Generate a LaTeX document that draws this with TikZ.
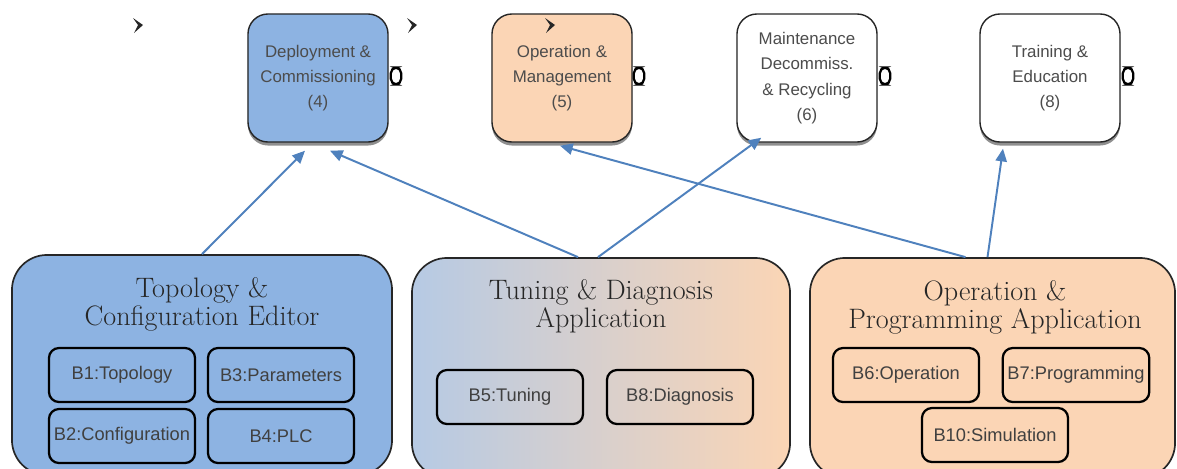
\documentclass[tikz,border=0pt]{standalone}
\usepackage{fontspec}
\setsansfont{Liberation Sans}
\usetikzlibrary{arrows.meta,shadows}

\definecolor{phaseblue}{RGB}{141,179,226}
\definecolor{peach}{RGB}{251,213,181}
\definecolor{tuneblue}{RGB}{182,202,228}
\definecolor{linkblue}{RGB}{79,129,189}

\tikzset{
  phase/.style={draw=black!85, line width=1pt, rounded corners=0.5cm,
    minimum width=3.5cm, minimum height=3.2cm, align=center,
    font=\sffamily\fontsize{12}{18}\selectfont, text=black!70,
    drop shadow={shadow xshift=0pt, shadow yshift=-2.5pt, fill=black!55, opacity=0.8}},
  toolbox/.style={draw=black!85, line width=1.2pt, rounded corners=0.875cm,
    minimum width=9.45cm, minimum height=5.5cm},
  toolname/.style={align=center, text=black!85,
    font=\fontsize{20}{20}\selectfont\addfontfeatures{LetterSpace=8}},
  block/.style={draw=black, line width=1.6pt, rounded corners=0.25cm,
    minimum width=3.65cm, minimum height=1.35cm,
    font=\sffamily\fontsize{13}{15}\selectfont, text=black!75},
  port/.style={draw=black, line width=1.6pt, rounded corners=4pt,
    minimum width=0.26cm, minimum height=0.42cm, inner sep=0pt},
  link/.style={-{Triangle[length=9pt,width=8pt]}, draw=linkblue, line width=1.4pt}
}

\begin{document}
\begin{tikzpicture}[x=0.025cm,y=-0.025cm]
  \useasboundingbox (0,0) rectangle (1177,468);
  \clip (0,0) rectangle (1177,468);

  % fases del ciclo de vida
  \node[phase, fill=phaseblue] (dep) at (318,78) {Deployment \&\\Commissioning\\(4)};
  \node[phase, fill=peach] (oper) at (562,78) {Operation \&\\Management\\(5)};
  \node[phase, fill=white] (maint) at (807,78) {Maintenance\\Decommiss.\\\& Recycling\\(6)};
  \node[phase, fill=white] (train) at (1050,78) {Training \&\\Education\\(8)};

  % puertos
  \node[port] (depport) at (396,76) {};
  \node[port] (operport) at (639,76) {};
  \node[port] (maintport) at (885,76) {};
  \node[port] (trainport) at (1128,76) {};

  % marcas
  \fill[black!85] (133,18) -- (143,25) -- (134,33) -- (138,25) -- cycle;
  \fill[black!85] (407,18) -- (417,25) -- (408,33) -- (412,25) -- cycle;
  \fill[black!85] (545,18) -- (555,25) -- (546,33) -- (550,25) -- cycle;

  % herramientas
  \node[toolbox, fill=phaseblue, minimum width=9.5cm] (topo) at (202,365) {};
  \node[toolbox, left color=tuneblue, right color=peach] (tun) at (601,368) {};
  \node[toolbox, fill=peach, minimum width=9.125cm] (opp) at (992.5,368) {};

  \node[toolname] (topotitle) at (202,304) {Topology \&\\Configuration Editor};
  \node[toolname] (tuntitle) at (601,306) {Tuning \& Diagnosis\\Application};
  \node[toolname] (opptitle) at (995,307) {Operation \&\\Programming Application};

  % bloques
  \node[block] (b1) at (122,375) {B1:Topology};
  \node[block] (b3) at (281,375) {B3:Parameters};
  \node[block] (b2) at (122,436) {B2:Configuration};
  \node[block] (b4) at (281,436) {B4:PLC};
  \node[block] (b5) at (510,397) {B5:Tuning};
  \node[block] (b8) at (680,397) {B8:Diagnosis};
  \node[block] (b6) at (906,375) {B6:Operation};
  \node[block] (b7) at (1076,375) {B7:Programming};
  \node[block] (b10) at (995,435) {B10:Simulation};

  % relaciones
  \draw[link] (topo.north) -- ([xshift=-0.325cm,yshift=-0.2cm]dep.south);
  \draw[link] ([xshift=-0.575cm]tun.north) -- ([xshift=0.3cm,yshift=-0.2cm]dep.south);
  \draw[link] ([xshift=-0.075cm]tun.north) -- ([xshift=0.625cm,yshift=0.125cm]maint.south west);
  \draw[link] ([xshift=-0.675cm]opp.north) -- ([xshift=-0.05cm,yshift=-0.075cm]oper.south);
  \draw[link] ([xshift=-0.125cm]opp.north) -- ([xshift=-1.175cm,yshift=-0.15cm]train.south);
\end{tikzpicture}
\end{document}
